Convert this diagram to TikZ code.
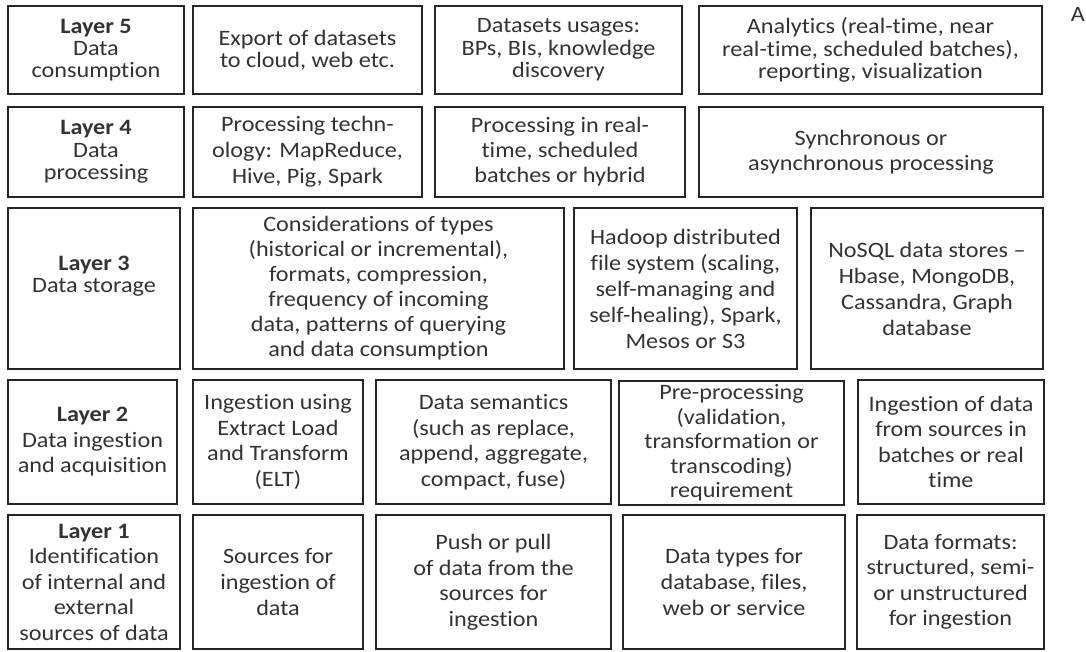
\documentclass[tikz,border=0pt]{standalone}
\usepackage{fontspec}
\setmainfont[FakeStretch=1.1, Ligatures=NoCommon]{Carlito}
\begin{document}
\begin{tikzpicture}[x=1pt,y=-1pt,
  cell/.style={draw=black!85, line width=1.6pt, rectangle, inner sep=0pt, align=center,
     text=black!80, font=\fontsize{22}{25.5}\selectfont},
  ls/.style={font=\fontsize{22}{#1}\selectfont}]
\useasboundingbox (0,0) rectangle (1086,651);
\fill[white] (0,0) rectangle (1086,651);
% Row 5
\node[cell, ls=22, minimum width=176pt, minimum height=88pt] (a5) at (96,50) {\textbf{Layer 5}\\Data\\consumption};
\node[cell, ls=22, minimum width=229pt, minimum height=88pt] (b5) at (307.5,50) {Export of datasets\\to cloud, web etc.};
\node[cell, ls=22.5, minimum width=247pt, minimum height=88pt] (c5) at (558.5,50) {Datasets usages:\\BPs, BIs, knowledge\\discovery};
\node[cell, ls=22.5, minimum width=343pt, minimum height=88pt] (d5) at (870.5,50) {Analytics (real-time, near\\real-time, scheduled batches),\\reporting, visualization};
% Row 4
\node[cell, ls=22.5, minimum width=176pt, minimum height=90pt] (a4) at (96,152) {\textbf{Layer 4}\\Data\\processing};
\node[cell, ls=26, minimum width=229pt, minimum height=90pt] (b4) at (307.5,152) {Processing techn-\\ology: MapReduce,\\Hive, Pig, Spark};
\node[cell, ls=25, minimum width=250pt, minimum height=90pt] (c4) at (560,152) {Processing in real-\\time, scheduled\\batches or hybrid};
\node[cell, ls=25, minimum width=344pt, minimum height=90pt] (d4) at (871,152) {Synchronous or\\asynchronous processing};
% Row 3
\node[cell, ls=22, minimum width=172pt, minimum height=161pt] (a3) at (94,288.5) {\textbf{Layer 3}\\Data storage\\[6pt]};
\node[cell, ls=25, minimum width=371pt, minimum height=161pt] (b3) at (378.5,288.5) {Considerations of types\\(historical or incremental),\\formats, compression,\\frequency of incoming\\data, patterns of querying\\and data consumption};
\node[cell, ls=26, minimum width=223pt, minimum height=161pt] (c3) at (685.5,288.5) {Hadoop distributed\\file system (scaling,\\self-managing and\\self-healing), Spark,\\Mesos or S3};
\node[cell, ls=26, minimum width=232pt, minimum height=161pt] (d3) at (927,288.5) {NoSQL data stores --\\Hbase, MongoDB,\\Cassandra, Graph\\database};
% Row 2
\node[cell, minimum width=169pt, minimum height=124pt] (a2) at (92.5,442) {\textbf{Layer 2}\\Data ingestion\\and acquisition};
\node[cell, minimum width=170pt, minimum height=124pt] (b2) at (278,442) {Ingestion using\\Extract Load\\and Transform\\(ELT)};
\node[cell, minimum width=235pt, minimum height=124pt] (c2) at (493.5,442) {Data semantics\\(such as replace,\\append, aggregate,\\compact, fuse)};
\node[cell, ls=24.5, minimum width=225pt, minimum height=124pt] (d2) at (731.5,443) {Pre-processing\\(validation,\\transformation or\\transcoding)\\requirement};
\node[cell, minimum width=186pt, minimum height=124pt] (e2) at (951,442) {Ingestion of data\\from sources in\\batches or real\\time};
% Row 1
\node[cell, minimum width=172pt, minimum height=134pt] (a1) at (94,582) {\textbf{Layer 1}\\Identification\\of internal and\\external\\sources of data};
\node[cell, ls=26, minimum width=170pt, minimum height=134pt] (b1) at (278,582) {Sources for\\ingestion of\\data};
\node[cell, minimum width=235pt, minimum height=134pt] (c1) at (493.5,582) {Push or pull\\of data from the\\sources for\\ingestion};
\node[cell, ls=26, minimum width=222pt, minimum height=134pt] (d1) at (734,582) {Data types for\\database, files,\\web or service};
\node[cell, minimum width=187pt, minimum height=134pt] (e1) at (950.5,582) {Data formats:\\structured, semi-\\or unstructured\\for ingestion};
% fragment at right edge
\node[anchor=north east, inner sep=1pt, text=black!80, font=\fontsize{22}{25}\selectfont] (frag) at (1086,6) {A};
\end{tikzpicture}
\end{document}
